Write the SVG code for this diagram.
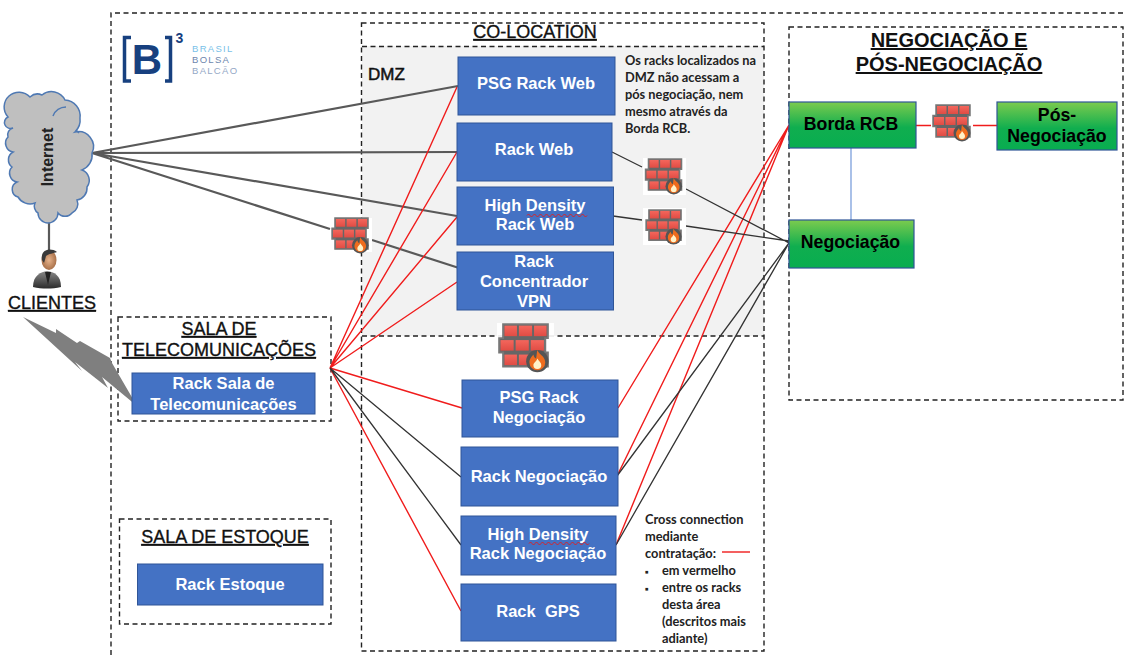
<svg xmlns="http://www.w3.org/2000/svg" xmlns:xlink="http://www.w3.org/1999/xlink" width="1124" height="655" viewBox="0 0 1124 655">
<style>
text{font-family:"Liberation Sans",Arial,sans-serif}
.dash{fill:none;stroke:#222;stroke-width:1.4;stroke-dasharray:5 3.5}
.rack{fill:#4472c4;stroke:#2f5597;stroke-width:1}
.rt{fill:#fff;font-size:16.500px;font-weight:700;text-anchor:middle}
.green{fill:url(#g);stroke:#2f5597;stroke-width:1.2}
.gt{fill:#000;font-size:17.700px;font-weight:700;text-anchor:middle}
.title{fill:#111;font-size:18px;text-anchor:middle;text-decoration:underline;stroke:#111;stroke-width:.35}
.title2{fill:#111;font-size:20px;font-weight:700;text-anchor:middle;text-decoration:underline}
.note{fill:#222;font-family:Lato,"Open Sans",sans-serif;font-size:12.800px;font-weight:700}
.inet{stroke:#595959;stroke-width:2.200;fill:none}
.red{stroke:#f01c1c;stroke-width:1.400;fill:none}
.blk{stroke:#333;stroke-width:1.300;fill:none}
.sq{fill:none;stroke:#e02020;stroke-width:1}
.lg{font-size:9.500px;letter-spacing:1.300px}
</style>
<defs>
<linearGradient id="g" x1="0" y1="0" x2="0" y2="1"><stop offset="0" stop-color="#7ccb4e"/><stop offset=".55" stop-color="#10ae4f"/><stop offset="1" stop-color="#08ad50"/></linearGradient>
<linearGradient id="br" x1="0" y1="0" x2="0" y2="1"><stop offset="0" stop-color="#f4665c"/><stop offset="1" stop-color="#e04c44"/></linearGradient>
<radialGradient id="sk"><stop offset="0" stop-color="#e8b48c"/><stop offset="1" stop-color="#a9714a"/></radialGradient>
<linearGradient id="suit" x1="0" y1="0" x2="0" y2="1"><stop offset="0" stop-color="#8a8a8a"/><stop offset="1" stop-color="#2b2b2b"/></linearGradient>
<symbol id="fw" viewBox="0 0 42 38">
<path d="M4 1H38V11.500H36V22.500H38V33H4V22.500H1V11.500H4Z" fill="#666" stroke="#777" stroke-width="1.500"/>
<g fill="url(#br)">
<rect x="5" y="2" width="9.500" height="8"/><rect x="16" y="2" width="10" height="8"/><rect x="27.500" y="2" width="9.500" height="8"/>
<rect x="2" y="13" width="10" height="8"/><rect x="13.500" y="13" width="10" height="8"/><rect x="25" y="13" width="10" height="8"/>
<rect x="5" y="24" width="9.500" height="8"/><rect x="16" y="24" width="10" height="8"/><rect x="27.500" y="24" width="9.500" height="8"/>
</g>
<circle cx="30" cy="29" r="8.500" fill="#555"/>
<path d="M30 20.500C31 24 36 25 36 30A6 6 0 0 1 24 30C24 27 26 25.500 27 24C27.500 26 28 26.500 29 27C29.500 25 29.500 23 30 20.500Z" fill="#ef6c1d"/>
<path d="M30 27C31 29 33 30 33 32A3 3 0 0 1 27 32C27 30 29.500 29.500 30 27Z" fill="#fff2c8"/>
</symbol>
</defs>
<rect width="1124" height="655" fill="#fff"/>

<g id="regions">
<rect x="362" y="46" width="402" height="290" fill="#f2f2f2"/>
<path class="dash" d="M111 655V13H1124"/>
<rect class="dash" x="361.500" y="23" width="402.500" height="628"/>
<path class="dash" d="M362 46.500H764M362 336H764"/>
<rect class="dash" x="789" y="27" width="334" height="373"/>
<rect class="dash" x="118" y="317" width="213" height="104"/>
<rect class="dash" x="119.500" y="519" width="211.500" height="105"/>
</g>

<g id="logo">
<path d="M131 37.500H124.500V81H131M165 37.500H170.500V81H165" fill="none" stroke="#17407f" stroke-width="3.500"/>
<text x="147" y="74" font-size="42" font-weight="700" fill="#17407f" text-anchor="middle">B</text>
<text x="179.500" y="43" font-size="14" font-weight="700" fill="#17407f" text-anchor="middle">3</text>
<text class="lg" x="192" y="52" fill="#79bfe8">BRASIL</text>
<text class="lg" x="192" y="63" fill="#6d86ad">BOLSA</text>
<text class="lg" x="192" y="74" fill="#94a8c6">BALCÃO</text>
</g>

<g id="connectors">
<path class="inet" d="M49 218V250M92 153L458 86M92 153L457 152M92 153L457 216M92 153L330 229M372 240L459 268"/>
<path class="red" d="M330 368L457 87M330 368L457 152M330 368L457 217M330 368L457 282M330 368L462 408M330 368L461 611"/>
<path class="blk" d="M330 368L461 477M330 368L461 545"/>
<path class="red" d="M618 408L789 125M617 476L789 125M616 545L789 125"/>
<path class="blk" d="M617 476L789 243M616 545L789 243"/>
<path class="blk" d="M612 152L642 167M686 189L789 243M613 216L642 220M686 226L789 241"/>
<path d="M851 148V220" fill="none" stroke="#7c9fdc" stroke-width="1.300"/>
<path class="red" d="M916 125.500H931M973 125.500H997"/>
<path class="red" d="M722 552H750"/>
<polygon id="lightning" points="23,317 56,333 56,329 77,343 80,341 110,358 112,363 137,406 102,377 108,388 75,362 82,371" fill="#7f7f7f"/>
</g>

<g id="internet">
<path d="M8 117A13 13 0 0 1 30 97A11 11 0 0 1 42 95A15 15 0 0 1 65 100A16 16 0 0 1 80 118Q81 126 75 132A15 15 0 0 1 92 153A16 16 0 0 1 82 170A11 11 0 0 1 87 187A12 12 0 0 1 77 200A10 10 0 0 1 72 213A9 9 0 0 1 58 213A10 10 0 0 1 38 213A8 8 0 0 1 35 203A14 14 0 0 1 18 197A8 8 0 0 1 17 182A9 9 0 0 1 12 167A9 9 0 0 1 13 152A9 9 0 0 1 8 137A7 7 0 0 1 13 128A6 6 0 0 1 8 117Z" fill="#bfbfbf" stroke="#4f79b3" stroke-width="1.500"/>
<path d="M53 116A14 14 0 0 1 66 107M76 130Q78 132 79 133" fill="none" stroke="#4f79b3" stroke-width="1.500"/>
<text transform="translate(53 157) rotate(-90)" font-size="16" font-weight="700" fill="#222" text-anchor="middle">Internet</text>
</g>

<g id="clientes">
<path d="M33 287C33 275 41 272 47 271C54 272 61 275 61 287C52 289 42 289 33 287Z" fill="url(#suit)"/>
<path d="M45 272L48 285L51 272Z" fill="#222"/>
<ellipse cx="49" cy="260" rx="7.500" ry="10" fill="url(#sk)"/>
<path d="M42 260C40 250 50 247 57 252C54 253 48 254 46 256Q45 260 44 263Z" fill="#3a3a3a"/>
<text class="title" x="52" y="309">CLIENTES</text>
</g>

<g id="sala-telecom">
<text class="title" x="219" y="335">SALA DE</text>
<text class="title" x="219" y="356">TELECOMUNICAÇÕES</text>
<rect class="rack" x="132" y="373" width="183" height="41"/>
<text class="rt" x="223.500" y="389">Rack Sala de</text>
<text class="rt" x="223.500" y="410">Telecomunicações</text>
</g>

<g id="sala-estoque">
<text class="title" x="225" y="543">SALA DE ESTOQUE</text>
<rect class="rack" x="137.500" y="564" width="185.500" height="41"/>
<text class="rt" x="230" y="590">Rack Estoque</text>
</g>

<g id="colocation">
<text class="title" x="535" y="38">CO-LOCATION</text>
<text x="368" y="80" font-size="17" fill="#111" stroke="#111" stroke-width=".5">DMZ</text>
<text class="note"><tspan x="625" y="65">Os racks localizados na</tspan><tspan x="625" y="82">DMZ não acessam a</tspan><tspan x="625" y="99">pós negociação, nem</tspan><tspan x="625" y="116">mesmo através da</tspan><tspan x="625" y="133">Borda RCB.</tspan></text>
<text class="note"><tspan x="645" y="524">Cross connection</tspan><tspan x="645" y="541">mediante</tspan><tspan x="645" y="558">contratação:</tspan><tspan x="645" y="575" font-size="9">▪</tspan><tspan x="662" y="575">em vermelho</tspan><tspan x="645" y="592" font-size="9">▪</tspan><tspan x="662" y="592">entre os racks</tspan><tspan x="662" y="609">desta área</tspan><tspan x="662" y="626">(descritos mais</tspan><tspan x="662" y="643">adiante)</tspan></text>
</g>

<g id="rack-psg-web"><rect class="rack" x="458" y="57" width="157" height="58"/><text class="rt" x="536" y="89">PSG Rack Web</text></g>
<g id="rack-web"><rect class="rack" x="457" y="123" width="155" height="58"/><text class="rt" x="534" y="155">Rack Web</text></g>
<g id="rack-hd-web"><rect class="rack" x="457" y="187" width="156.500" height="58"/><text class="rt" x="535" y="211">High Density</text><text class="rt" x="535" y="230">Rack Web</text><path class="sq" d="M527 215.500q1.500 -3 3 0t3 0t3 0t3 0t3 0t3 0t3 0t3 0t3 0t3 0t3 0t3 0t3 0t3 0t3 0t3 0t3 0t3 0t3 0t3 0"/></g>
<g id="rack-vpn"><rect class="rack" x="457" y="252" width="156.500" height="58"/><text class="rt" x="534" y="267">Rack</text><text class="rt" x="534" y="287">Concentrador</text><text class="rt" x="534" y="307">VPN</text></g>
<g id="rack-psg-neg"><rect class="rack" x="462" y="380" width="156" height="57"/><text class="rt" x="539" y="403">PSG Rack</text><text class="rt" x="539" y="423">Negociação</text></g>
<g id="rack-neg"><rect class="rack" x="461" y="447" width="157" height="59"/><text class="rt" x="539" y="482">Rack Negociação</text></g>
<g id="rack-hd-neg"><rect class="rack" x="461" y="516" width="155" height="59"/><text class="rt" x="538" y="540">High Density</text><text class="rt" x="538" y="559">Rack Negociação</text><path class="sq" d="M529 543.500q1.500 -3 3 0t3 0t3 0t3 0t3 0t3 0t3 0t3 0t3 0t3 0t3 0t3 0t3 0t3 0t3 0t3 0t3 0t3 0t3 0t3 0"/></g>
<g id="rack-gps"><rect class="rack" x="461" y="584" width="155" height="57"/><text class="rt" x="538" y="617" xml:space="preserve">Rack  GPS</text></g>

<g id="negociacao-area">
<text class="title2" x="949" y="47">NEGOCIAÇÃO E</text>
<text class="title2" x="949" y="71">PÓS-NEGOCIAÇÃO</text>
</g>
<g id="borda-rcb"><rect class="green" x="789" y="102" width="127" height="46"/><text class="gt" x="851" y="130">Borda RCB</text></g>
<g id="pos-negociacao"><rect class="green" x="997" y="102" width="120" height="48"/><text class="gt" x="1057" y="121">Pós-</text><text class="gt" x="1057" y="142">Negociação</text></g>
<g id="negociacao"><rect class="green" x="789" y="220" width="125" height="48"/><text class="gt" x="850.500" y="248">Negociação</text></g>

<g id="firewall-left"><rect x="331" y="218" width="41" height="34" fill="#fff"/><use href="#fw" x="331" y="217" width="41" height="37"/></g>
<g id="firewall-web"><rect x="643" y="158" width="43" height="37" fill="#fff"/><use href="#fw" x="644" y="158" width="42" height="37"/></g>
<g id="firewall-hd"><rect x="643" y="208" width="43" height="37" fill="#fff"/><use href="#fw" x="644" y="209" width="42" height="36"/></g>
<g id="firewall-dmz"><rect x="497" y="323" width="57" height="50" fill="#fff" opacity=".9"/><use href="#fw" x="497" y="323" width="57" height="50"/></g>
<g id="firewall-top"><use href="#fw" x="932" y="104" width="42" height="38"/></g>
</svg>
